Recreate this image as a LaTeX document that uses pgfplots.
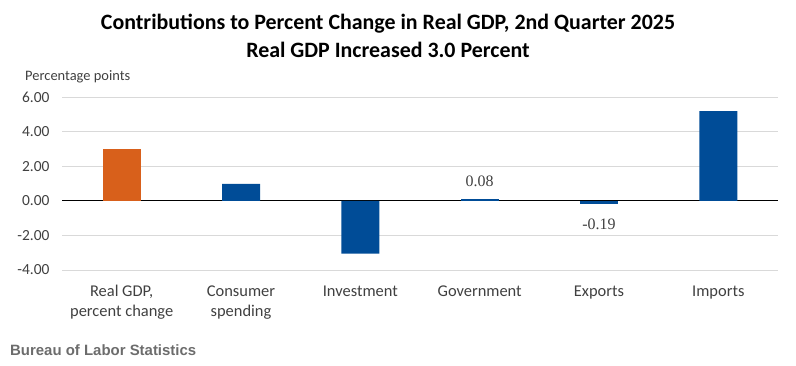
\documentclass[border=0pt]{standalone}
\usepackage{pgfplots}
\pgfplotsset{compat=1.18}
\usepackage{fontspec}
\setmainfont{Carlito}
\newfontfamily\arial{Liberation Sans}
\newfontfamily\serifnum{Liberation Serif}
\definecolor{gdporange}{HTML}{D8601B}
\definecolor{bblue}{HTML}{004C97}
\definecolor{gridgray}{HTML}{D9D9D9}
\definecolor{txt}{HTML}{404040}
\begin{document}
\begin{tikzpicture}[x=1bp,y=1bp]
\useasboundingbox (0,0) rectangle (796,365);
\begin{axis}[
  at={(62bp,95bp)}, anchor=south west,
  scale only axis, width=716bp, height=173bp,
  xmin=-0.5, xmax=5.5, ymin=-4, ymax=6,
  ytick={-4,-2,0,2,4,6},
  xtick={0,1,2,3,4,5},
  xticklabels={{Real GDP,\\percent change},{Consumer\\spending},Investment,Government,Exports,Imports},
  axis line style={draw=none},
  major tick length=0pt,
  ymajorgrids, grid style={gridgray, line width=0.8pt},
  yticklabel={\pgfmathprintnumber[fixed,fixed zerofill,precision=2]{\tick}},
  /pgf/number format/assume math mode=true,
  yticklabel style={font=\fontsize{15.5}{17}\selectfont, text=txt, anchor=east, xshift=-9bp},
  xticklabel style={font=\fontsize{16.5}{20}\selectfont, text=txt, align=center, anchor=north, yshift=-12bp},
  ybar, bar width=38bp, bar shift=0pt,
  clip=false,
  extra y ticks={0}, extra y tick labels={},
  extra y tick style={grid style={black, line width=0.9pt}},
]
\addplot[fill=gdporange, draw=none] coordinates {(0,3.0)};
\addplot[fill=bblue, draw=none] coordinates {(1,0.98) (2,-3.06) (5,5.18)};
\addplot[fill=bblue, draw=none, nodes near coords,
  nodes near coords style={font=\serifnum\fontsize{16}{18}\selectfont, text=txt, anchor=center, yshift=18bp},
  point meta=explicit symbolic] coordinates {(3,0.08) [0.08]};
\addplot[fill=bblue, draw=none, nodes near coords,
  nodes near coords style={font=\serifnum\fontsize{16}{18}\selectfont, text=txt, anchor=center, yshift=-20bp},
  point meta=explicit symbolic] coordinates {(4,-0.19) [-0.19]};
\end{axis}
\node[font=\bfseries\fontsize{22}{24}\selectfont, text=black] at (388,341) {Contributions to Percent Change in Real GDP, 2nd Quarter 2025};
\node[font=\bfseries\fontsize{22}{24}\selectfont, text=black] at (388,315) {Real GDP Increased 3.0 Percent};
\node[font=\fontsize{14.5}{16}\selectfont, text=txt, anchor=west, inner sep=0pt] at (25,288) {Percentage points};
\node[font=\arial\bfseries\fontsize{15}{17}\selectfont, text=gray!85!black, anchor=west, inner sep=0pt] at (10,15) {Bureau of Labor Statistics};
\end{tikzpicture}
\end{document}
